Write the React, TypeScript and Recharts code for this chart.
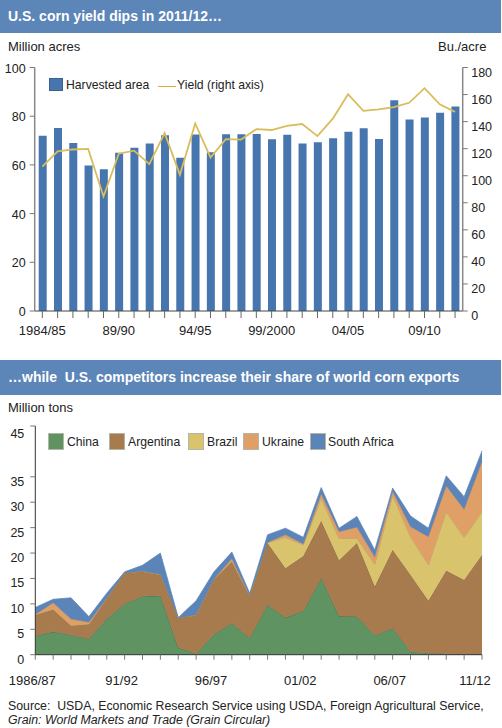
import { Area, AreaChart, Bar, ComposedChart, Legend, Line, XAxis, YAxis } from "recharts";

const FONT = "Liberation Sans, Arial, sans-serif";

// top chart
const marketingYears = [
  "1984/85", "85/86", "86/87", "87/88", "88/89", "89/90", "90/91", "91/92", "92/93", "93/94",
  "94/95", "95/96", "96/97", "97/98", "98/99", "99/2000", "00/01", "01/02", "02/03", "03/04",
  "04/05", "05/06", "06/07", "07/08", "08/09", "09/10", "10/11", "11/12",
];
const harvestedArea = [
  72, 75.2, 69, 59.8, 58.2, 65, 67, 68.8, 72.2, 62.9, 72.5, 65.2, 72.6, 72.6,
  72.7, 70.5, 72.4, 68.8, 69.3, 70.9, 73.6, 75.1, 70.6, 86.5, 78.6, 79.5, 81.4, 84,
];
const yieldPerAcre = [
  106.7, 118, 119.4, 119.8, 84.6, 116.3, 118.5, 108.6, 131.5, 100.7, 138.6, 113.5, 127.1, 126.7,
  134.4, 133.8, 136.9, 138.2, 129.3, 142.2, 160.3, 147.9, 149.1, 150.7, 153.9, 164.7, 152.8, 147.2,
];
const acreTicks = [0, 20, 40, 60, 80, 100];
const yieldTicks = [0, 20, 40, 60, 80, 100, 120, 140, 160, 180];

// bottom chart
const exportYears = [
  "1986/87", "87/88", "88/89", "89/90", "90/91", "91/92", "92/93", "93/94", "94/95", "95/96",
  "96/97", "97/98", "98/99", "99/00", "00/01", "01/02", "02/03", "03/04", "04/05", "05/06",
  "06/07", "07/08", "08/09", "09/10", "10/11", "11/12",
];
const china = [3.7, 4.5, 3.9, 3.1, 7, 10, 11.5, 11.6, 1.4, 0.2, 4, 6.2, 3.3, 9.8, 7.3, 8.6, 15.1, 7.6, 7.5, 3.8, 5.2, 0.6, 0.3, 0.2, 0.1, 0.1];
const argentina = [4.1, 4.4, 1.8, 2.9, 4, 6.1, 4.8, 4.1, 5.8, 7.5, 10.8, 12.1, 8.1, 12.2, 9.7, 10.8, 11.2, 11, 14.5, 9.6, 15.4, 15.1, 10.3, 16.3, 14.6, 19.5];
const brazil = [0, 0, 0, 0, 0, 0, 0, 0, 0, 0, 0, 0.1, 0.1, 0.1, 6.1, 2.2, 4.5, 4.3, 0.9, 4.4, 10.8, 7.5, 7.1, 11.6, 8.4, 8.5];
const ukraine = [0.1, 1.3, 1.3, 0.4, 0.1, 0, 0.1, 0.1, 0, 0.1, 0.1, 0.5, 0.1, 0, 0.5, 0.2, 0.8, 1.3, 2.2, 1.4, 0.7, 2, 5.5, 5.1, 5.5, 9.9];
const southAfrica = [1.4, 0.7, 4.2, 1.1, 1, 0.2, 1.2, 4.2, 0.1, 2.8, 1.4, 1.3, 0.5, 1.5, 1.3, 1.3, 1.3, 0.7, 2.1, 1.4, 0.7, 2.1, 1.7, 2, 2.5, 2.1];
const tonTicks = [0, 5, 10, 15, 20, 25, 30, 35, 40, 45];

const topData = marketingYears.map((year, i) => ({ year, area: harvestedArea[i], yield: yieldPerAcre[i] }));
const bottomData = exportYears.map((year, i) => ({
  year,
  china: china[i],
  argentina: argentina[i],
  brazil: brazil[i],
  ukraine: ukraine[i],
  southAfrica: southAfrica[i],
}));

const areaSeries = [
  { key: "china", name: "China", fill: "#5f9362", stroke: "#3d5f40", x: 48, textX: 67 },
  { key: "argentina", name: "Argentina", fill: "#a87b4f", stroke: "#7d5c3a", x: 109, textX: 128 },
  { key: "brazil", name: "Brazil", fill: "#d9c36c", stroke: "#a8904c", x: 188, textX: 207 },
  { key: "ukraine", name: "Ukraine", fill: "#e09f66", stroke: "#b87f4f", x: 243, textX: 262 },
  { key: "southAfrica", name: "South Africa", fill: "#5b84b8", stroke: "#5b84b8", x: 310, textX: 328 },
];

const Label = ({ x, y, children, style }: any) => (
  <div style={{ position: "absolute", left: x, top: y, fontFamily: FONT, fontSize: 13, lineHeight: "15px", color: "#222", whiteSpace: "pre", ...style }}>
    {children}
  </div>
);

const Band = ({ y, height, children }: any) => (
  <div style={{ position: "absolute", left: 0, top: y, width: 501, height, background: "#5c85b8", color: "#fff", fontFamily: FONT, fontWeight: 700, fontSize: 14, lineHeight: `${height}px`, paddingLeft: 8, boxSizing: "border-box", whiteSpace: "pre" }}>
    {children}
  </div>
);

// tick labels get nudged by hand, the original labels don't sit on the ticks
const yTick = (anchor: "start" | "end", dx: number, dy: number) => (p: any) => (
  <text x={p.x + dx} y={p.y + dy} textAnchor={anchor} fontFamily={FONT} fontSize={12.5} fill="#222">
    {p.payload.value}
  </text>
);

const xTick = (offsetY: number, labelDx: (i: number) => number) => (p: any) =>
  p.index % 5 === 0 ? (
    <text x={p.x + labelDx(p.index)} y={p.y + offsetY} textAnchor="middle" fontFamily={FONT} fontSize={13} fill="#222">
      {p.payload.value}
    </text>
  ) : (
    <g />
  );

const legendWrapper = { left: 0, top: 0, bottom: "auto", width: 0, height: 0 };

const topLegend = () => (
  <div style={{ position: "absolute", left: 0, top: 0, fontFamily: FONT, fontSize: 12.2, color: "#222" }}>
    <div style={{ position: "absolute", left: 49, top: 78, width: 14, height: 13, background: "#4676ad", boxSizing: "border-box", border: "1px solid #3a628f" }} />
    <div style={{ position: "absolute", left: 66, top: 78, lineHeight: "15px", whiteSpace: "pre" }}>Harvested area</div>
    <div style={{ position: "absolute", left: 158, top: 85.5, width: 18, height: 1.5, background: "#d4ad45" }} />
    <div style={{ position: "absolute", left: 177, top: 78, lineHeight: "15px", whiteSpace: "pre" }}>Yield (right axis)</div>
  </div>
);

const bottomLegend = () => (
  <div style={{ position: "absolute", left: 0, top: 0, fontFamily: FONT, fontSize: 12.2, color: "#222" }}>
    {areaSeries.map((s) => (
      <div key={s.key}>
        <div style={{ position: "absolute", left: s.x, top: 12.5, width: 16, height: 17, background: s.fill, boxSizing: "border-box", border: "1px solid #b5b5a5" }} />
        <div style={{ position: "absolute", left: s.textX, top: 15, lineHeight: "15px", whiteSpace: "pre" }}>{s.name}</div>
      </div>
    ))}
  </div>
);

export default function App() {
  return (
    <div style={{ position: "absolute", left: 0, top: 0, width: 502, height: 728, background: "#fff", overflow: "hidden" }}>
      <Band y={0} height={33}>U.S. corn yield dips in 2011/12…</Band>
      <Label x={8} y={39}>Million acres</Label>
      <Label x={438} y={39}>Bu./acre</Label>

      <div style={{ position: "absolute", left: 0, top: 0 }}>
        <ComposedChart width={502} height={345} data={topData} margin={{ top: 67.5, right: 0, bottom: 0, left: 0 }} barCategoryGap={0}>
          <XAxis
            dataKey="year"
            interval={0}
            height={34}
            tickSize={7}
            tickLine={{ stroke: "#666", strokeWidth: 1 }}
            axisLine={{ stroke: "#444", strokeWidth: 1 }}
            tick={xTick(15, () => 0)}
          />
          <YAxis
            yAxisId="left"
            width={34.7}
            domain={[0, 100]}
            ticks={acreTicks}
            tickSize={5}
            tickLine={{ stroke: "#777" }}
            axisLine={{ stroke: "#888", strokeWidth: 1.5 }}
            tick={yTick("end", -2, 5)}
          />
          <YAxis
            yAxisId="right"
            orientation="right"
            width={39.3}
            domain={[0, 180]}
            ticks={yieldTicks}
            tickSize={5}
            tickLine={{ stroke: "#777" }}
            axisLine={{ stroke: "#888", strokeWidth: 1.5 }}
            tick={yTick("start", 1.5, 9)}
          />
          <Legend content={topLegend} wrapperStyle={legendWrapper} />
          <Bar yAxisId="left" dataKey="area" barSize={8} fill="#4676ad" isAnimationActive={false} />
          <Line yAxisId="right" dataKey="yield" stroke="#d9bc5c" strokeWidth={1.8} dot={false} isAnimationActive={false} />
        </ComposedChart>
      </div>

      <Band y={360} height={35}>…while  U.S. competitors increase their share of world corn exports</Band>
      <Label x={8} y={400}>Million tons</Label>

      <div style={{ position: "absolute", left: 0, top: 420 }}>
        <AreaChart width={502} height={280} data={bottomData} margin={{ top: 6, right: 20, bottom: 0, left: 0 }}>
          <XAxis
            dataKey="year"
            interval={0}
            height={45.3}
            tickSize={5}
            tickLine={{ stroke: "#777" }}
            axisLine={{ stroke: "#333", strokeWidth: 1 }}
            tick={xTick(23, (i) => (i === 25 ? -7 : -3))}
          />
          <YAxis
            width={35.3}
            domain={[0, 45]}
            ticks={tonTicks}
            tickSize={5}
            tickLine={{ stroke: "#777" }}
            axisLine={{ stroke: "#333", strokeWidth: 1 }}
            tick={yTick("end", -4, 9)}
          />
          <Legend content={bottomLegend} wrapperStyle={legendWrapper} />
          {areaSeries.map((s) => (
            <Area
              key={s.key}
              type="linear"
              dataKey={s.key}
              name={s.name}
              stackId="exports"
              fill={s.fill}
              fillOpacity={1}
              stroke={s.stroke}
              strokeWidth={0.7}
              isAnimationActive={false}
            />
          ))}
        </AreaChart>
      </div>

      <Label x={8} y={698.5} style={{ fontSize: 12.3 }}>Source:  USDA, Economic Research Service using USDA, Foreign Agricultural Service,</Label>
      <Label x={8} y={713} style={{ fontSize: 12.3, fontStyle: "italic" }}>Grain: World Markets and Trade (Grain Circular)</Label>
    </div>
  );
}
